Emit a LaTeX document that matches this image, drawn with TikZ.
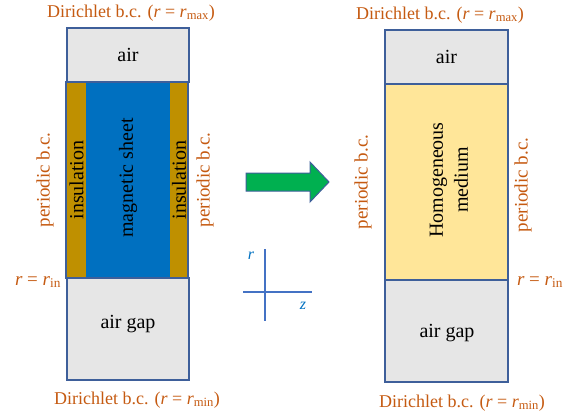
\documentclass[tikz,border=0pt]{standalone}
\usepackage{fontspec}
\setmainfont{Liberation Serif}
\definecolor{bc}{HTML}{C55A11}
\definecolor{edge}{HTML}{3E5F9A}
\definecolor{airc}{HTML}{E6E6E6}
\definecolor{magc}{HTML}{0070C0}
\definecolor{insc}{HTML}{BF9000}
\definecolor{homc}{HTML}{FFE699}
\definecolor{arrc}{HTML}{00B050}
\definecolor{axc}{HTML}{4472C4}
\newcommand{\rr}{\textit{r}}
\begin{document}
\begin{tikzpicture}[x=1pt,y=-1pt,
  region/.style={draw=edge, line width=1.2pt, inner sep=0pt, outer sep=0pt,
     font=\fontsize{20}{23}\selectfont},
  strip/.style={inner sep=0pt, outer sep=0pt, font=\fontsize{20}{23}\selectfont},
  bclab/.style={text=bc, inner sep=0pt, font=\fontsize{18}{21}\selectfont},
  axlab/.style={text=magc, inner sep=0pt, font=\fontsize{16}{18}\selectfont\itshape}]
\useasboundingbox (0,0) rectangle (581,417);
% ---------- left model ----------
\node[region, fill=magc, minimum width=122pt, minimum height=196pt] (midL) at (127,180) {};
\node[strip, fill=insc, minimum width=19pt, minimum height=195pt] (insL1) at (76.5,180) {};
\node[strip, fill=insc, minimum width=18pt, minimum height=195pt] (insL2) at (179,180) {};
\node[strip, rotate=90] (insL1t) at (insL1.center) {insulation};
\node[strip, rotate=90] (insL2t) at (insL2.center) {insulation};
\node[strip, rotate=90] (magLt) at (128,178) {magnetic sheet};
\draw[edge, line width=1.2pt] (66,82) rectangle (188,278);
\node[region, fill=airc, minimum width=122pt, minimum height=54pt] (airL) at (128,55) {air};
\node[region, fill=airc, minimum width=122pt, minimum height=102pt] (gapL) at (128,329) {};
\node[strip] (gapLt) at (128,324) {air gap};
% labels
\node[bclab] (topL) at (131,13) {Dirichlet b.c. (\rr{} = \rr\textsubscript{max})};
\node[bclab] (botL) at (137,400) {Dirichlet b.c. (\rr{} = \rr\textsubscript{min})};
\node[bclab, rotate=90, font=\fontsize{19}{22}\selectfont] (perL1) at (45,180) {periodic b.c.};
\node[bclab, rotate=90, font=\fontsize{19}{22}\selectfont] (perL2) at (205,180) {periodic b.c.};
\node[bclab, font=\fontsize{19}{22}\selectfont] (rinL) at (38,282) {\rr{} = \rr\textsubscript{in}};
% ---------- arrow ----------
\draw[fill=arrc, draw=edge, line width=1pt] (246,173)--(310,173)--(310,162)--(329,182)--(310,202)--(310,191)--(246,191)--cycle;
% ---------- axes ----------
\coordinate (vt) at (265,249);
\coordinate (vb) at (265,321);
\coordinate (hl) at (243,292);
\coordinate (hr) at (312,292);
\draw[axc, line width=1.6pt] (vt) -- (vb);
\draw[axc, line width=1.6pt] (hl) -- (hr);
\node[axlab] (rlab) at (251,256) {r};
\node[axlab] (zlab) at (303,306) {z};
% ---------- right model ----------
\node[region, fill=homc, minimum width=123pt, minimum height=196pt] (homR) at (446.5,182) {};
\node[strip, rotate=90, align=center, font=\fontsize{20}{25}\selectfont] (homRt) at (449,180) {Homogeneous\\medium};
\node[region, fill=airc, minimum width=123pt, minimum height=54pt] (airR) at (446.5,57) {air};
\node[region, fill=airc, minimum width=123pt, minimum height=102pt] (gapR) at (446.5,331) {};
\node[strip] (gapRt) at (447,333) {air gap};
\node[bclab] (topR) at (440,15) {Dirichlet b.c. (\rr{} = \rr\textsubscript{max})};
\node[bclab] (botR) at (462,403) {Dirichlet b.c. (\rr{} = \rr\textsubscript{min})};
\node[bclab, rotate=90, font=\fontsize{19}{22}\selectfont] (perR1) at (363,182) {periodic b.c.};
\node[bclab, rotate=90, font=\fontsize{19}{22}\selectfont] (perR2) at (523,185) {periodic b.c.};
\node[bclab, font=\fontsize{19}{22}\selectfont] (rinR) at (540,282) {\rr{} = \rr\textsubscript{in}};
\end{tikzpicture}
\end{document}
